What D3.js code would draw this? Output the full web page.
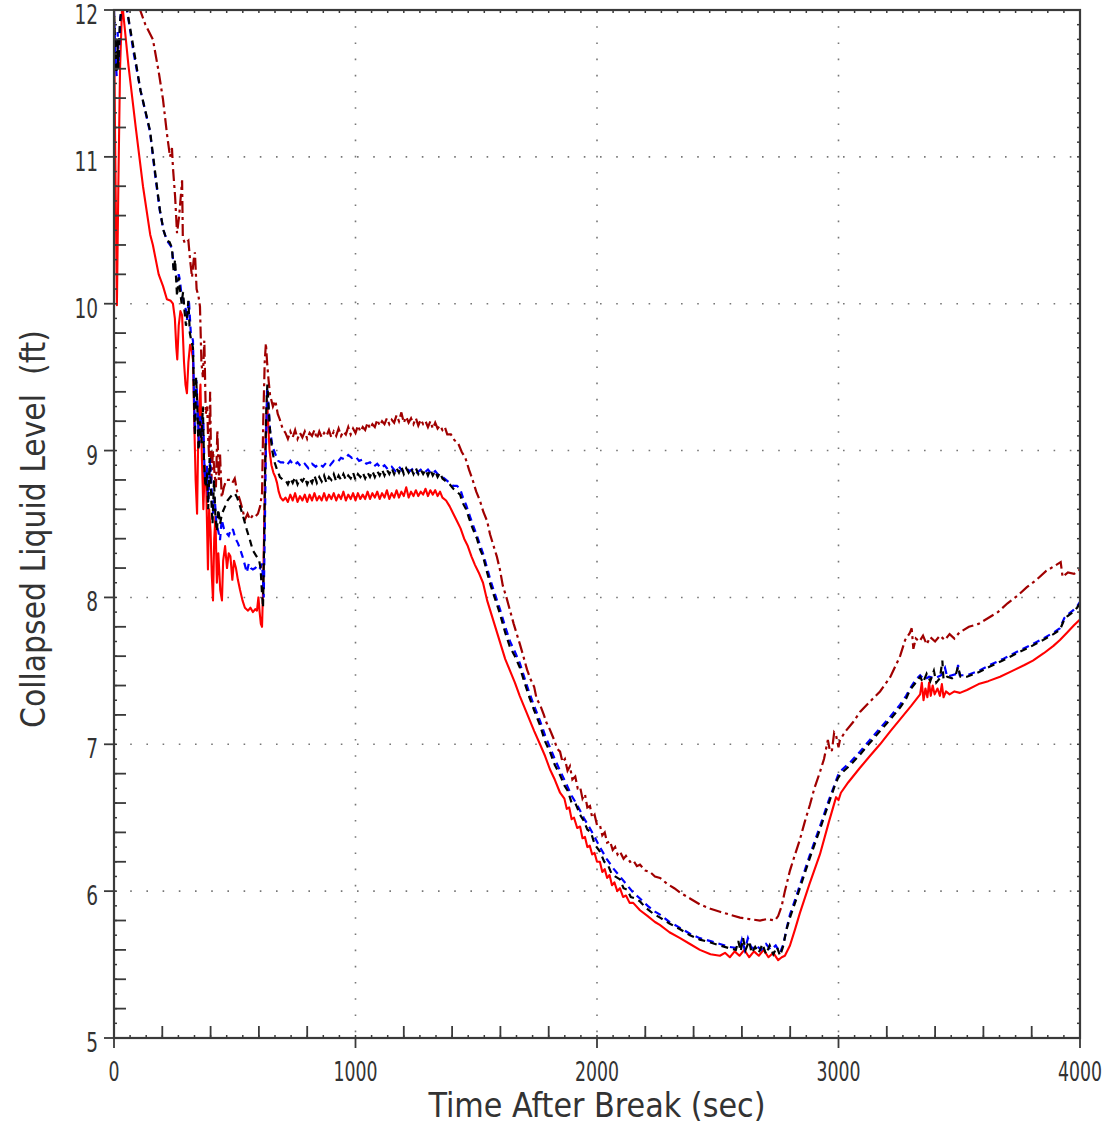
<!DOCTYPE html>
<html><head><meta charset="utf-8">
<script src="https://cdn.jsdelivr.net/npm/d3@7/dist/d3.min.js"></script>
<style>
html,body{margin:0;padding:0;background:#fff;}
text{font-family:'DejaVu Sans Condensed','Liberation Sans',sans-serif;fill:#333;white-space:pre;}
</style></head>
<body><svg id="chart" width="1110" height="1131"></svg>
<script>
// ---------- data ----------
const xTickLabels = [0, 1000, 2000, 3000, 4000];
const yTickLabels = [5, 6, 7, 8, 9, 10, 11, 12];
const xGrid = [1000, 2000, 3000];
const yGrid = [6, 7, 8, 9, 10, 11];
const xLabel = "Time After Break (sec)";
const yLabel = "Collapsed Liquid Level  (ft)";

const redSeries = [[0,12],[4,11.2],[8,10.6],[12,9.99],[18,10.8],[25,11.6],[33,12],[37,12],
[60,11.62],[90,11.2],[120,10.8],[150,10.47],[161,10.4],[185,10.2],[203,10.12],[219,10.03],[235,10.02],[244,10],[252,9.9],[258,9.7],[262,9.62],[268,9.85],[275,9.95],[282,9.92],[290,9.6],[296,9.45],[302,9.39],[308,9.6],[315,9.72],[322,9.68],[327,9.62],[333,9.15],[338,8.8],[344,8.57],[348,9.0],[353,9.3],[358,9.45],[364,8.95],[370,8.6],[376,8.9],[382,8.75],[389,8.19],[394,8.6],[400,8.45],[405,8.15],[410,7.98],[415,8.4],[420,8.55],[426,8.1],[432,8.3],[440,8.05],[447,7.98],[452,8.25],[460,8.35],[468,8.2],[475,8.3],[482,8.28],[490,8.12],[497,8.25],[505,8.2],[513,8.12],[522,8.05],[532,7.98],[542,7.93],[555,7.91],[565,7.93],[575,7.9],[585,7.92],[592,7.91],[598,8.0],[603,7.9],[608,7.82],[613,7.8],[618,8.1],[623,8.6],[628,9.1],[634,9.34],[638,9.2],[644,9.0],[652,8.9],[660,8.85],[668,8.82],[675,8.78],[682,8.72],[690,8.68],[700,8.66],
[710,8.68],[720,8.65],[730,8.7],[740,8.66],[750,8.71],[760,8.65],[770,8.69],[780,8.66],[790,8.7],[800,8.65],[810,8.7],[820,8.66],[830,8.71],[840,8.66],[850,8.69],[860,8.66],[870,8.71],[880,8.66],[890,8.7],[900,8.67],[910,8.71],[920,8.66],[930,8.7],[940,8.67],[950,8.72],[960,8.66],[970,8.7],[980,8.67],[990,8.71],[1000,8.66],[1010,8.71],[1020,8.67],[1030,8.7],[1040,8.67],[1050,8.72],[1060,8.67],[1070,8.71],[1080,8.68],[1090,8.72],[1100,8.67],[1110,8.71],[1120,8.68],[1130,8.73],[1140,8.67],[1150,8.71],[1160,8.68],[1170,8.73],[1180,8.68],[1190,8.72],[1200,8.69],[1210,8.75],[1220,8.68],[1230,8.72],[1240,8.69],[1250,8.73],[1260,8.69],[1270,8.72],[1280,8.7],[1290,8.74],[1300,8.69],[1310,8.73],[1320,8.7],[1330,8.73],[1340,8.69],[1350,8.72],[1360,8.68],[1375,8.66],[1390,8.62],[1405,8.57],[1420,8.52],[1435,8.47],[1450,8.4],[1465,8.35],[1480,8.28],[1495,8.22],[1510,8.17],[1528,8.1],[1545,7.98],[1560,7.9],[1575,7.82],[1590,7.74],[1605,7.66],[1620,7.58],[1640,7.5],[1660,7.42],[1680,7.33],[1700,7.25],[1720,7.17],[1740,7.09],[1764,7.0],[1785,6.92],[1805,6.83],[1825,6.76],[1847,6.67],[1865,6.63],[1875,6.56],[1885,6.57],[1895,6.49],[1905,6.5],[1918,6.43],[1930,6.44],[1940,6.36],[1950,6.37],[1960,6.3],[1970,6.31],[1980,6.25],[1990,6.26],[2000,6.2],[2012,6.2],[2022,6.13],[2032,6.15],[2042,6.09],[2052,6.11],[2062,6.04],[2072,6.06],[2084,6.0],[2095,6.02],[2108,5.96],[2120,5.97],[2135,5.92],[2150,5.92],[2178,5.87],[2210,5.83],[2240,5.79],[2260,5.77],[2300,5.72],[2344,5.68],[2385,5.64],[2426,5.6],[2470,5.57],[2509,5.56],[2530,5.58],[2550,5.55],[2570,5.59],[2590,5.56],[2610,5.6],[2630,5.55],[2650,5.59],[2670,5.56],[2690,5.6],[2710,5.55],[2730,5.58],[2750,5.53],[2765,5.55],[2778,5.56],[2799,5.63],[2820,5.74],[2840,5.85],[2880,6.05],[2923,6.25],[2960,6.47],[2990,6.64],[3000,6.62],[3010,6.67],[3040,6.74],[3089,6.84],[3130,6.92],[3172,7.0],[3215,7.09],[3255,7.17],[3300,7.26],[3338,7.34],[3345,7.42],[3352,7.3],[3360,7.38],[3368,7.32],[3375,7.42],[3382,7.33],[3390,7.4],[3398,7.34],[3410,7.38],[3420,7.33],[3428,7.41],[3435,7.32],[3445,7.36],[3460,7.34],[3480,7.36],[3503,7.35],[3532,7.37],[3580,7.41],[3620,7.43],[3669,7.46],[3720,7.5],[3770,7.54],[3805,7.57],[3850,7.62],[3890,7.67],[3917,7.71],[3946,7.76],[3975,7.81],[4000,7.85]];

const darkRedSeries = [[0,12],[60,12],[100,12],[108,12],[130,11.9],[161,11.8],[185,11.58],[203,11.39],[219,11.16],[232,11.0],[240,11.06],[244,10.93],[253,10.73],[261,10.48],[270,10.6],[282,10.84],[285,10.45],[294,10.41],[308,10.43],[315,10.3],[323,10.18],[330,10.3],[335,10.35],[342,10.1],[350,10.05],[356,9.98],[362,9.6],[368,9.5],[374,9.75],[380,9.25],[386,9.3],[389,9.12],[394,8.95],[398,9.4],[403,8.8],[410,9.0],[416,8.85],[422,8.75],[428,9.14],[434,8.8],[439,8.98],[446,8.68],[455,8.75],[465,8.8],[480,8.8],[490,8.78],[500,8.81],[510,8.72],[522,8.66],[532,8.6],[542,8.53],[553,8.57],[563,8.53],[575,8.56],[585,8.55],[596,8.57],[605,8.62],[613,8.71],[618,9.2],[624,9.6],[629,9.73],[634,9.6],[640,9.48],[646,9.38],[658,9.3],[668,9.34],[678,9.25],[687,9.21],[698,9.15],
[710,9.12],[720,9.08],[730,9.13],[740,9.09],[750,9.14],[760,9.08],[770,9.12],[780,9.09],[790,9.13],[800,9.08],[810,9.12],[820,9.1],[830,9.14],[840,9.08],[850,9.13],[860,9.09],[870,9.12],[880,9.1],[890,9.14],[900,9.09],[910,9.13],[920,9.1],[930,9.15],[940,9.1],[950,9.13],[960,9.11],[970,9.16],[980,9.11],[990,9.15],[1000,9.12],[1010,9.17],[1020,9.13],[1030,9.16],[1040,9.14],[1050,9.19],[1060,9.15],[1070,9.18],[1080,9.16],[1090,9.21],[1100,9.17],[1110,9.2],[1120,9.18],[1130,9.22],[1140,9.18],[1150,9.21],[1160,9.19],[1170,9.24],[1180,9.2],[1190,9.26],[1200,9.19],[1210,9.23],[1220,9.19],[1230,9.22],[1240,9.18],[1250,9.22],[1260,9.17],[1270,9.21],[1280,9.18],[1290,9.2],[1300,9.16],[1310,9.2],[1320,9.15],[1330,9.19],[1340,9.15],[1350,9.17],[1360,9.14],[1370,9.16],[1380,9.11],[1395,9.11],[1410,9.07],[1425,9.05],[1440,8.99],[1455,8.95],[1470,8.87],[1485,8.8],[1500,8.72],[1515,8.66],[1530,8.58],[1545,8.52],[1557,8.43],[1570,8.36],[1585,8.28],[1598,8.19],[1610,8.08],[1625,8.0],[1640,7.91],[1655,7.82],[1668,7.75],[1681,7.68],[1695,7.6],[1710,7.51],[1723,7.45],[1740,7.39],[1750,7.31],[1764,7.27],[1780,7.2],[1790,7.15],[1805,7.1],[1815,7.06],[1825,7.02],[1835,6.97],[1847,6.95],[1857,6.88],[1867,6.9],[1878,6.82],[1888,6.85],[1898,6.76],[1910,6.78],[1920,6.7],[1930,6.71],[1940,6.63],[1950,6.66],[1960,6.57],[1971,6.58],[1980,6.5],[1990,6.52],[2000,6.45],[2012,6.45],[2022,6.38],[2032,6.4],[2042,6.33],[2054,6.34],[2065,6.28],[2075,6.3],[2085,6.25],[2095,6.27],[2110,6.22],[2120,6.24],[2137,6.2],[2150,6.21],[2165,6.17],[2178,6.18],[2200,6.14],[2220,6.13],[2240,6.1],[2261,6.09],[2290,6.05],[2320,6.02],[2344,5.99],[2385,5.95],[2426,5.91],[2470,5.88],[2509,5.86],[2550,5.84],[2592,5.82],[2630,5.81],[2675,5.8],[2705,5.81],[2737,5.8],[2750,5.83],[2765,5.9],[2778,6.0],[2799,6.14],[2820,6.25],[2840,6.35],[2860,6.47],[2882,6.59],[2900,6.7],[2923,6.81],[2940,6.9],[2956,7.03],[2965,6.95],[2973,6.96],[2982,7.08],[2990,7.06],[3000,6.98],[3006,7.03],[3030,7.09],[3060,7.15],[3089,7.22],[3130,7.29],[3172,7.36],[3215,7.46],[3255,7.6],[3276,7.71],[3296,7.76],[3303,7.79],[3310,7.65],[3320,7.72],[3335,7.7],[3350,7.74],[3365,7.68],[3380,7.73],[3400,7.7],[3420,7.74],[3440,7.71],[3460,7.75],[3480,7.72],[3500,7.76],[3540,7.8],[3580,7.82],[3620,7.86],[3660,7.9],[3700,7.96],[3740,8.01],[3780,8.07],[3820,8.12],[3860,8.18],[3890,8.21],[3920,8.24],[3928,8.14],[3950,8.17],[3975,8.16],[4000,8.19]];

const blueSeries = [[0,12],[6,11.7],[11,11.55],[15,11.85],[20,11.65],[26,11.95],[32,12],[54,12],[80,11.72],[110,11.45],[149,11.17],[170,10.88],[190,10.63],[205,10.5],[219,10.43],[232,10.4],[240,10.38],[247,10.25],[253,10.23],[261,10.15],[268,10.2],[273,10.16],[280,10.05],[286,10.03],[292,9.98],[298,9.96],[302,9.89],[310,10.03],[318,9.8],[327,9.75],[331,9.4],[335,9.12],[341,9.48],[346,9.3],[352,9.02],[358,9.25],[364,9.1],[370,9.2],[375,8.85],[380,8.8],[385,8.9],[390,8.65],[398,8.94],[404,8.75],[410,8.57],[417,8.68],[424,8.5],[432,8.45],[439,8.39],[446,8.53],[455,8.47],[465,8.44],[475,8.42],[485,8.47],[493,8.46],[503,8.4],[513,8.37],[522,8.33],[532,8.28],[542,8.22],[550,8.17],[558,8.23],[566,8.2],[575,8.19],[585,8.2],[595,8.22],[605,8.2],[613,8.23],[617,8.12],[620,8.0],[624,8.4],[629,9.0],[634,9.43],[640,9.3],[646,9.14],[656,9.03],[667,8.98],[680,8.93],[690,8.92],[700,8.92],
[715,8.9],[730,8.93],[745,8.9],[760,8.92],[775,8.89],[790,8.91],[805,8.88],[820,8.91],[835,8.89],[850,8.91],[865,8.89],[880,8.92],[895,8.9],[910,8.93],[925,8.92],[940,8.95],[955,8.94],[970,8.97],[985,8.95],[1000,8.96],[1015,8.93],[1030,8.94],[1045,8.91],[1060,8.92],[1075,8.89],[1090,8.91],[1105,8.88],[1120,8.9],[1135,8.87],[1150,8.89],[1165,8.86],[1180,8.89],[1195,8.86],[1210,8.88],[1225,8.86],[1240,8.88],[1255,8.85],[1270,8.87],[1285,8.85],[1300,8.87],[1315,8.84],[1330,8.86],[1345,8.83],[1360,8.82],[1375,8.8],[1390,8.78],[1405,8.76],[1420,8.76],[1433,8.74],[1445,8.68],[1458,8.63],[1470,8.57],[1485,8.5],[1503,8.42],[1515,8.36],[1528,8.3],[1545,8.2],[1560,8.11],[1580,8.01],[1598,7.92],[1620,7.8],[1640,7.7],[1660,7.63],[1681,7.55],[1700,7.45],[1720,7.35],[1740,7.26],[1764,7.16],[1785,7.06],[1805,6.98],[1825,6.9],[1847,6.82],[1870,6.74],[1895,6.65],[1920,6.58],[1945,6.5],[1970,6.43],[1990,6.37],[2012,6.3],[2040,6.22],[2070,6.15],[2095,6.1],[2125,6.04],[2150,5.99],[2178,5.95],[2210,5.9],[2240,5.86],[2261,5.84],[2300,5.79],[2344,5.75],[2385,5.71],[2426,5.68],[2470,5.66],[2509,5.64],[2550,5.62],[2590,5.61],[2600,5.67],[2612,5.6],[2625,5.68],[2640,5.61],[2660,5.63],[2680,5.6],[2700,5.64],[2720,5.6],[2740,5.63],[2758,5.58],[2772,5.64],[2787,5.76],[2799,5.84],[2820,5.94],[2840,6.04],[2880,6.24],[2923,6.44],[2960,6.62],[2985,6.73],[2998,6.79],[3010,6.82],[3050,6.88],[3089,6.95],[3130,7.03],[3172,7.11],[3215,7.19],[3255,7.27],[3280,7.33],[3296,7.38],[3320,7.44],[3338,7.47],[3355,7.44],[3375,7.46],[3400,7.45],[3425,7.47],[3441,7.52],[3450,7.46],[3470,7.47],[3490,7.48],[3495,7.54],[3502,7.47],[3532,7.47],[3580,7.5],[3627,7.54],[3680,7.58],[3739,7.63],[3790,7.67],[3847,7.72],[3890,7.76],[3917,7.79],[3935,7.86],[3946,7.88],[3970,7.91],[3988,7.94],[4000,7.97]];

const blackSeries = [[0,12],[5,11.75],[10,11.57],[14,11.8],[18,11.6],[24,11.9],[30,12],[54,12],[80,11.75],[110,11.45],[149,11.18],[170,10.9],[190,10.64],[205,10.5],[219,10.43],[230,10.42],[240,10.38],[247,10.22],[253,10.3],[261,10.05],[268,10.18],[273,10.1],[280,10.0],[286,10.08],[292,9.95],[298,9.85],[302,9.9],[308,10.02],[314,9.8],[320,9.75],[327,9.7],[332,9.3],[335,9.1],[340,9.5],[345,9.3],[350,9.0],[356,9.2],[362,9.05],[368,9.3],[373,8.9],[379,8.75],[385,8.85],[390,8.6],[396,8.95],[402,8.7],[408,8.5],[414,8.8],[420,8.55],[426,8.45],[432,8.6],[439,8.5],[447,8.57],[460,8.62],[470,8.66],[480,8.68],[490,8.7],[500,8.71],[510,8.68],[522,8.62],[535,8.55],[550,8.46],[563,8.39],[575,8.32],[590,8.28],[600,8.26],[607,8.2],[612,8.05],[617,7.93],[621,8.3],[626,8.9],[631,9.3],[635,9.45],[640,9.3],[646,9.14],[655,9.0],[665,8.92],[675,8.87],[687,8.82],[700,8.8],
[710,8.8],[720,8.77],[730,8.81],[740,8.78],[750,8.82],[760,8.77],[770,8.81],[780,8.79],[790,8.82],[800,8.77],[810,8.81],[820,8.78],[830,8.83],[840,8.78],[850,8.82],[860,8.79],[870,8.83],[880,8.78],[890,8.82],[900,8.8],[910,8.84],[920,8.79],[930,8.83],[940,8.8],[950,8.84],[960,8.8],[970,8.83],[980,8.81],[990,8.85],[1000,8.8],[1010,8.84],[1020,8.82],[1030,8.85],[1040,8.81],[1050,8.85],[1060,8.82],[1070,8.86],[1080,8.82],[1090,8.86],[1100,8.83],[1110,8.87],[1120,8.83],[1130,8.87],[1140,8.84],[1150,8.88],[1160,8.84],[1170,8.88],[1180,8.85],[1190,8.89],[1200,8.84],[1210,8.88],[1220,8.85],[1230,8.88],[1240,8.84],[1250,8.88],[1260,8.84],[1270,8.87],[1280,8.84],[1290,8.87],[1300,8.83],[1310,8.87],[1320,8.83],[1330,8.86],[1340,8.82],[1350,8.85],[1360,8.81],[1375,8.79],[1390,8.77],[1405,8.74],[1420,8.72],[1433,8.7],[1445,8.64],[1458,8.6],[1470,8.54],[1485,8.47],[1503,8.4],[1515,8.33],[1528,8.28],[1545,8.17],[1560,8.08],[1580,7.98],[1598,7.89],[1620,7.76],[1640,7.66],[1660,7.6],[1681,7.52],[1700,7.42],[1720,7.32],[1740,7.23],[1764,7.13],[1785,7.02],[1805,6.95],[1825,6.86],[1847,6.79],[1865,6.72],[1880,6.68],[1895,6.6],[1910,6.6],[1930,6.52],[1945,6.48],[1960,6.42],[1975,6.4],[1990,6.32],[2012,6.27],[2030,6.2],[2045,6.18],[2060,6.12],[2075,6.1],[2095,6.08],[2110,6.02],[2125,6.01],[2140,5.96],[2160,5.95],[2178,5.93],[2200,5.89],[2230,5.85],[2261,5.82],[2300,5.78],[2344,5.74],[2385,5.7],[2426,5.67],[2470,5.65],[2509,5.63],[2550,5.61],[2575,5.6],[2585,5.66],[2595,5.59],[2605,5.68],[2615,5.6],[2630,5.66],[2640,5.58],[2655,5.62],[2670,5.58],[2685,5.64],[2700,5.57],[2715,5.63],[2730,5.57],[2745,5.62],[2758,5.56],[2770,5.62],[2785,5.74],[2799,5.82],[2820,5.92],[2840,6.02],[2880,6.22],[2923,6.42],[2960,6.6],[2985,6.72],[2998,6.77],[3010,6.8],[3050,6.86],[3089,6.93],[3130,7.01],[3172,7.09],[3215,7.17],[3255,7.25],[3280,7.31],[3296,7.37],[3320,7.42],[3338,7.46],[3350,7.42],[3365,7.48],[3380,7.43],[3395,7.5],[3405,7.42],[3420,7.45],[3430,7.57],[3435,7.44],[3450,7.46],[3470,7.45],[3485,7.47],[3495,7.53],[3505,7.46],[3532,7.46],[3580,7.49],[3627,7.53],[3680,7.57],[3739,7.62],[3790,7.66],[3847,7.71],[3890,7.75],[3917,7.78],[3935,7.85],[3946,7.87],[3970,7.9],[3988,7.93],[4000,7.96]];

// ---------- chart ----------
const svg = d3.select("#chart");
const L = 114, R = 1080, T = 10, B = 1038;
const x = d3.scaleLinear().domain([0, 4000]).range([L, R]);
const y = d3.scaleLinear().domain([5, 12]).range([B, T]);
const axisColor = "#3a3a3a";

svg.append("defs").append("clipPath").attr("id","clip")
  .append("rect").attr("x",L).attr("y",T).attr("width",R-L).attr("height",B-T);

// grid
const g = svg.append("g");
g.selectAll(".gx").data(xGrid).join("line")
  .attr("x1",d=>x(d)).attr("x2",d=>x(d)).attr("y1",T).attr("y2",B)
  .attr("stroke","#777").attr("stroke-width",1.6).attr("stroke-dasharray","1.6,14.6");
g.selectAll(".gy").data(yGrid).join("line")
  .attr("x1",L).attr("x2",R).attr("y1",d=>y(d)).attr("y2",d=>y(d))
  .attr("stroke","#777").attr("stroke-width",1.6).attr("stroke-dasharray","1.6,14.6");

// series
const line = d3.line().x(d=>x(d[0])).y(d=>y(d[1]));
const plot = svg.append("g").attr("clip-path","url(#clip)");
plot.append("path").datum(redSeries).attr("d",line).attr("fill","none")
  .attr("stroke","#ff0000").attr("stroke-width",2.1).attr("stroke-linejoin","round");
plot.append("path").datum(darkRedSeries).attr("d",line).attr("fill","none")
  .attr("stroke","#a00000").attr("stroke-width",2.2).attr("stroke-dasharray","12,4,3,4");
plot.append("path").datum(blueSeries).attr("d",line).attr("fill","none")
  .attr("stroke","#0000ff").attr("stroke-width",2.2).attr("stroke-dasharray","7,5");
plot.append("path").datum(blackSeries).attr("d",line).attr("fill","none")
  .attr("stroke","#000000").attr("stroke-width",2.2).attr("stroke-dasharray","7,5").attr("stroke-dashoffset",6);

// ticks
const ax = svg.append("g").attr("stroke",axisColor);
const xMinor = d3.range(0, 4000.01, 200/3);
const xMid = d3.range(200, 4000, 200).filter(v => v % 1000 !== 0);
ax.selectAll(".xm").data(xMinor).join("line")
  .attr("x1",d=>x(d)).attr("x2",d=>x(d)).attr("y1",B).attr("y2",B-3).attr("stroke-width",1.5);
ax.selectAll(".xt").data(xMinor).join("line")
  .attr("x1",d=>x(d)).attr("x2",d=>x(d)).attr("y1",T).attr("y2",T+3).attr("stroke-width",1.5);
ax.selectAll(".xmid").data(xMid).join("line")
  .attr("x1",d=>x(d)).attr("x2",d=>x(d)).attr("y1",B).attr("y2",B-12).attr("stroke-width",1.8);
ax.selectAll(".xmaj").data(xTickLabels).join("line")
  .attr("x1",d=>x(d)).attr("x2",d=>x(d)).attr("y1",B).attr("y2",B+10).attr("stroke-width",1.8);

const yMinor = d3.range(5, 12.001, 0.1);
const yMid = d3.range(5.2, 12, 0.2).filter(v => Math.abs(v - Math.round(v)) > 0.05);
ax.selectAll(".ym").data(yMinor).join("line")
  .attr("x1",L).attr("x2",L+3).attr("y1",d=>y(d)).attr("y2",d=>y(d)).attr("stroke-width",1.5);
ax.selectAll(".yr").data(yMinor).join("line")
  .attr("x1",R).attr("x2",R-3).attr("y1",d=>y(d)).attr("y2",d=>y(d)).attr("stroke-width",1.5);
ax.selectAll(".ymid").data(yMid).join("line")
  .attr("x1",L).attr("x2",L+12).attr("y1",d=>y(d)).attr("y2",d=>y(d)).attr("stroke-width",1.8);
ax.selectAll(".ymaj").data(yTickLabels).join("line")
  .attr("x1",L).attr("x2",L-10).attr("y1",d=>y(d)).attr("y2",d=>y(d)).attr("stroke-width",1.8);

// frame
svg.append("rect").attr("x",L).attr("y",T).attr("width",R-L).attr("height",B-T)
  .attr("fill","none").attr("stroke",axisColor).attr("stroke-width",2.2);

// tick labels
svg.selectAll(".xl").data(xTickLabels).join("text")
  .attr("x",d=>x(d)).attr("y",B+43).attr("text-anchor","middle")
  .attr("font-size",27).attr("textLength",d=>String(d).length*11).attr("lengthAdjust","spacingAndGlyphs")
  .text(d=>d);
svg.selectAll(".yl").data(yTickLabels).join("text")
  .attr("x",L-16).attr("y",d=>y(d)+14).attr("text-anchor","end")
  .attr("font-size",27).attr("textLength",d=>String(d).length*11.8).attr("lengthAdjust","spacingAndGlyphs")
  .text(d=>d);

// axis titles
svg.append("text").attr("x",597).attr("y",1117).attr("text-anchor","middle")
  .attr("font-size",34).attr("textLength",337).attr("lengthAdjust","spacingAndGlyphs").text(xLabel);
svg.append("text").attr("transform","translate(45,529) rotate(-90)").attr("text-anchor","middle")
  .attr("font-size",34).attr("textLength",398).attr("lengthAdjust","spacingAndGlyphs").text(yLabel);
</script></body></html>
